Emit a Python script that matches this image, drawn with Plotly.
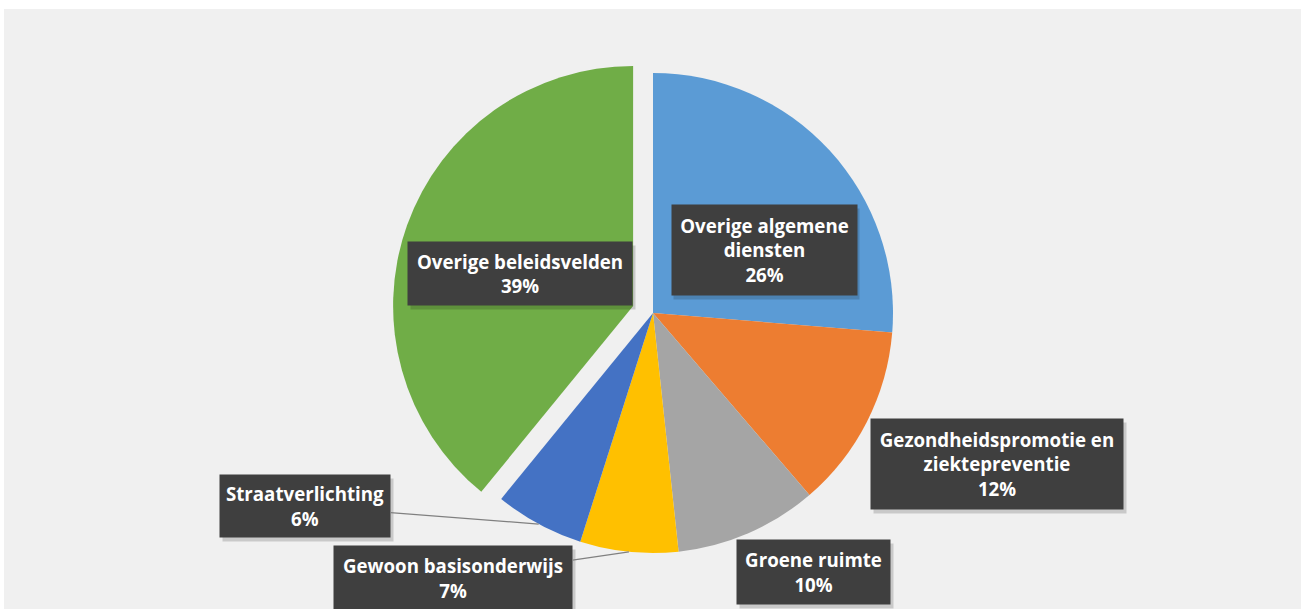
import math
import plotly.graph_objects as go

W, H = 1301, 609

# ---- data ----
categories = ["Overige algemene diensten", "Gezondheidspromotie en ziektepreventie",
              "Groene ruimte", "Gewoon basisonderwijs", "Straatverlichting",
              "Overige beleidsvelden"]
label_lines = ["Overige algemene<br>diensten", "Gezondheidspromotie en<br>ziektepreventie",
               "Groene ruimte", "Gewoon basisonderwijs", "Straatverlichting",
               "Overige beleidsvelden"]
values = [26.3, 12.4, 9.6, 6.6, 6.0, 39.1]
colors = ["#5B9BD5", "#ED7D31", "#A5A5A5", "#FFC000", "#4472C4", "#70AD47"]
pulls = [0, 0, 0, 0, 0, 0.088]

# ---- layout (pixels) ----
cx, cy, R = 653, 313, 240
maxpull = max(pulls)
side = 2 * R * (1 + maxpull)
dom_y = [(H - cy - side / 2) / H, (H - cy + side / 2) / H]
dom_x = [(cx - 420) / W, (cx + 420) / W]

# label boxes: centre x, centre y, width, height (pixels)
boxes = [(764, 250, 185, 90), (997, 464, 252, 90), (813, 572, 153, 64),
         (453, 578, 238, 64), (305, 506, 170, 62), (520, 273, 224, 63)]
leader = [False, False, False, True, True, False]

fig = go.Figure()
fig.add_trace(go.Pie(
    labels=categories, values=values, sort=False, direction="clockwise",
    rotation=0, pull=pulls, marker=dict(colors=colors, line=dict(width=0)),
    textinfo="none", hoverinfo="skip", showlegend=False,
    domain=dict(x=dom_x, y=dom_y),
))

total = sum(values)
cum = 0
annotations = []
shapes = [dict(type="rect", xref="paper", yref="paper", x0=4 / W, x1=1, y0=0,
               y1=1 - 9 / H, fillcolor="#F0F0F0", line=dict(width=0), layer="below")]
font = dict(family="Open Sans", size=18.7, color="white", weight="bold")
for i, v in enumerate(values):
    mid = (cum + v / 2) / total * 2 * math.pi
    cum += v
    bx, by, bw, bh = boxes[i]
    text = f"{label_lines[i]}<br>{round(v / total * 100)}%"
    # shadow
    annotations.append(dict(x=(bx + 3) / W, y=1 - (by + 4) / H, xref="paper", yref="paper",
                            xanchor="center", yanchor="middle",
                            text="", width=bw, height=bh, bgcolor="rgba(0,0,0,0.16)",
                            showarrow=False, borderpad=0))
    if leader[i]:
        px = cx + R * math.sin(mid)
        py = cy - R * math.cos(mid)
        annotations.append(dict(x=px / W, y=1 - py / H, xref="paper", yref="paper",
                                ax=bx - px, ay=by - py, text=text, width=bw, height=bh,
                                bgcolor="#3F3F3F", font=font, showarrow=True, arrowhead=0,
                                arrowwidth=1.2, arrowcolor="#808080", borderpad=0,
                                align="center", valign="middle"))
    else:
        annotations.append(dict(x=bx / W, y=1 - by / H, xref="paper", yref="paper",
                                xanchor="center", yanchor="middle",
                                text=text, width=bw, height=bh, bgcolor="#3F3F3F",
                                font=font, showarrow=False, borderpad=0,
                                align="center", valign="middle"))

fig.update_layout(width=W, height=H, margin=dict(l=0, r=0, t=0, b=0),
                  paper_bgcolor="white", shapes=shapes, annotations=annotations)
fig.write_html("out.html", config={"displayModeBar": False},
               post_script="document.body.style.margin='0';")
